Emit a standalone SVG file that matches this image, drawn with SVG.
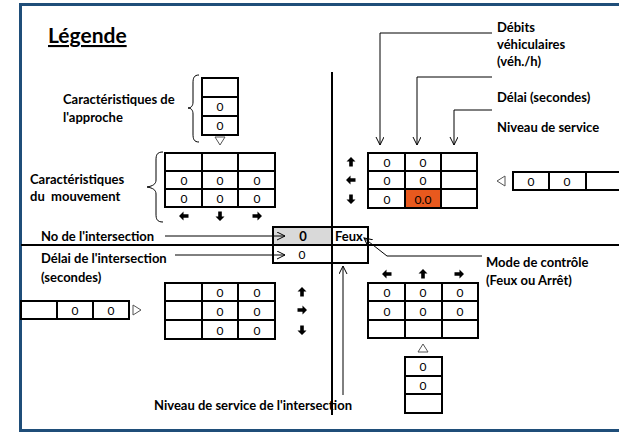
<svg xmlns="http://www.w3.org/2000/svg" xmlns:xlink="http://www.w3.org/1999/xlink" width="619" height="432" viewBox="0 0 619 432">
<style>
.lbl{font-family:Lato,"Liberation Sans",sans-serif;font-weight:bold;font-size:13px;fill:#000}
.num{font-family:Lato,"Liberation Sans",sans-serif;font-size:12px;fill:#000;text-anchor:middle}
.grid{fill:none;stroke:#000;stroke-width:2}
.lead{fill:none;stroke:#000;stroke-width:1}
.tri{fill:#fff;stroke:#555;stroke-width:1}
.arr{fill:#000}
</style>
<defs>
<marker id="open" markerUnits="userSpaceOnUse" markerWidth="10" markerHeight="10" refX="8" refY="4" orient="auto">
<path d="M0,0 L8,4 L0,8" fill="none" stroke="#000" stroke-width="1"/>
</marker>
<path id="aUp" d="M0,-5 L4.5,-0.5 L1.8,-0.5 L1.8,4.5 L-1.8,4.5 L-1.8,-0.5 L-4.5,-0.5 Z"/>
</defs>
<rect width="619" height="432" fill="#fff"/>
<rect id="frame" x="20.5" y="4.5" width="610" height="426" fill="none" stroke="#1f4e79" stroke-width="3"/>

<g id="axes">
<line x1="332" y1="72" x2="332" y2="415" stroke="#000" stroke-width="2"/>
<line x1="21" y1="245" x2="619" y2="245" stroke="#000" stroke-width="2"/>
</g>

<g id="legend-title"><text x="48" y="43" style="font-family:Lato,'Liberation Sans',sans-serif;font-weight:bold;font-size:21px;text-decoration:underline" fill="#000">Légende</text></g>

<g id="label-approche">
<text class="lbl" x="63" y="104">Caractéristiques de</text>
<text class="lbl" x="63" y="122">l'approche</text>
<path class="lead" d="M199,75 C194,75 193,78 193,83 L193,102 C193,106 191,108 188,108 C191,108 193,110 193,114 L193,134 C193,139 194,142 199,142"/>
</g>

<g id="label-mouvement">
<text class="lbl" x="30" y="184">Caractéristiques</text>
<text class="lbl" x="30" y="201" xml:space="preserve">du  mouvement</text>
<path class="lead" d="M163,152 C157,152 156,155 156,160 L156,180 C156,184 153,186 147,187 C153,188 156,190 156,194 L156,214 C156,219 157,222 163,222"/>
</g>

<g id="legend-approach-table">
<rect class="grid" x="202" y="78" width="36" height="57"/>
<line class="grid" x1="202" y1="97" x2="238" y2="97"/>
<line class="grid" x1="202" y1="116" x2="238" y2="116"/>
<text class="num" x="220" y="111">0</text>
<text class="num" x="220" y="130">0</text>
<polygon class="tri" points="215,137 225,137 220,145"/>
</g>

<g id="legend-movement-table">
<rect class="grid" x="165" y="153" width="110" height="54"/>
<line class="grid" x1="202" y1="153" x2="202" y2="207"/>
<line class="grid" x1="238" y1="153" x2="238" y2="207"/>
<line class="grid" x1="165" y1="171" x2="275" y2="171"/>
<line class="grid" x1="165" y1="189" x2="275" y2="189"/>
<text class="num" x="184" y="185">0</text><text class="num" x="220" y="185">0</text><text class="num" x="257" y="185">0</text>
<text class="num" x="184" y="203">0</text><text class="num" x="220" y="203">0</text><text class="num" x="257" y="203">0</text>
<use href="#aUp" class="arr" transform="translate(184,216) rotate(-90)"/>
<use href="#aUp" class="arr" transform="translate(220,216) rotate(180)"/>
<use href="#aUp" class="arr" transform="translate(257,216) rotate(90)"/>
</g>

<g id="ne-movement-table">
<rect x="405" y="189" width="36" height="19" fill="#e8591e"/>
<rect class="grid" x="368" y="153" width="109" height="55"/>
<line class="grid" x1="405" y1="153" x2="405" y2="208"/>
<line class="grid" x1="441" y1="153" x2="441" y2="208"/>
<line class="grid" x1="368" y1="171" x2="477" y2="171"/>
<line class="grid" x1="368" y1="189" x2="477" y2="189"/>
<text class="num" x="387" y="167">0</text><text class="num" x="423" y="167">0</text>
<text class="num" x="387" y="185">0</text><text class="num" x="423" y="185">0</text>
<text class="num" x="387" y="204">0</text><text class="num" x="423" y="204">0.0</text>
<use href="#aUp" class="arr" transform="translate(351,162)"/>
<use href="#aUp" class="arr" transform="translate(351,180) rotate(-90)"/>
<use href="#aUp" class="arr" transform="translate(351,199) rotate(180)"/>
</g>

<g id="e-approach-table">
<polygon class="tri" points="505,176 505,186 497,181"/>
<rect class="grid" x="513" y="172" width="115" height="18"/>
<line class="grid" x1="549" y1="172" x2="549" y2="190"/>
<line class="grid" x1="586" y1="172" x2="586" y2="190"/>
<text class="num" x="531" y="186">0</text><text class="num" x="567" y="186">0</text>
</g>

<g id="center-table">
<rect x="273" y="227" width="59" height="18" fill="#d9d9d9"/>
<rect class="grid" x="273" y="227" width="95" height="36"/>
<line class="grid" x1="332" y1="227" x2="332" y2="263"/>
<line class="grid" x1="273" y1="245" x2="368" y2="245"/>
<text class="num" x="303" y="241" font-weight="bold" style="font-size:13px">0</text>
<text class="lbl" x="335" y="241">Feux</text>
<text class="num" x="302" y="259">0</text>
</g>

<g id="se-movement-table">
<use href="#aUp" class="arr" transform="translate(387,274) rotate(-90)"/>
<use href="#aUp" class="arr" transform="translate(423,274)"/>
<use href="#aUp" class="arr" transform="translate(459,274) rotate(90)"/>
<rect class="grid" x="368" y="283" width="110" height="55"/>
<line class="grid" x1="405" y1="283" x2="405" y2="338"/>
<line class="grid" x1="442" y1="283" x2="442" y2="338"/>
<line class="grid" x1="368" y1="301" x2="478" y2="301"/>
<line class="grid" x1="368" y1="320" x2="478" y2="320"/>
<text class="num" x="387" y="297">0</text><text class="num" x="423" y="297">0</text><text class="num" x="460" y="297">0</text>
<text class="num" x="387" y="316">0</text><text class="num" x="423" y="316">0</text><text class="num" x="460" y="316">0</text>
</g>

<g id="s-approach-table">
<polygon class="tri" points="418,352 428,352 423,344"/>
<rect class="grid" x="405" y="357" width="37" height="56"/>
<line class="grid" x1="405" y1="376" x2="442" y2="376"/>
<line class="grid" x1="405" y1="394" x2="442" y2="394"/>
<text class="num" x="423" y="371">0</text>
<text class="num" x="423" y="390">0</text>
</g>

<g id="sw-movement-table">
<rect class="grid" x="165" y="283" width="110" height="56"/>
<line class="grid" x1="202" y1="283" x2="202" y2="339"/>
<line class="grid" x1="238" y1="283" x2="238" y2="339"/>
<line class="grid" x1="165" y1="301" x2="275" y2="301"/>
<line class="grid" x1="165" y1="320" x2="275" y2="320"/>
<text class="num" x="220" y="297">0</text><text class="num" x="257" y="297">0</text>
<text class="num" x="220" y="316">0</text><text class="num" x="257" y="316">0</text>
<text class="num" x="220" y="335">0</text><text class="num" x="257" y="335">0</text>
<use href="#aUp" class="arr" transform="translate(302,292)"/>
<use href="#aUp" class="arr" transform="translate(302,310) rotate(90)"/>
<use href="#aUp" class="arr" transform="translate(302,330) rotate(180)"/>
</g>

<g id="w-approach-table">
<rect class="grid" x="21" y="301" width="108" height="18"/>
<line class="grid" x1="57" y1="301" x2="57" y2="319"/>
<line class="grid" x1="93" y1="301" x2="93" y2="319"/>
<text class="num" x="75" y="315">0</text><text class="num" x="111" y="315">0</text>
<polygon class="tri" points="133,305 133,315 141,310"/>
</g>

<g id="label-debits">
<text class="lbl" x="497" y="32">Débits</text>
<text class="lbl" x="497" y="49">véhiculaires</text>
<text class="lbl" x="497" y="66">(véh./h)</text>
</g>
<g id="label-delai"><text class="lbl" x="497" y="102">Délai (secondes)</text></g>
<g id="label-niveau"><text class="lbl" x="497" y="132">Niveau de service</text></g>
<g id="label-no"><text class="lbl" x="41" y="241">No de l'intersection</text></g>
<g id="label-delai-int">
<text class="lbl" x="41" y="263">Délai de l'intersection</text>
<text class="lbl" x="41" y="282">(secondes)</text>
</g>
<g id="label-mode">
<text class="lbl" x="486" y="267">Mode de contrôle</text>
<text class="lbl" x="486" y="285">(Feux ou Arrêt)</text>
</g>
<g id="label-nsi"><text class="lbl" x="154" y="410">Niveau de service de l'intersection</text></g>

<g id="connectors">
<polyline class="lead" points="492,33 380,33 380,145" marker-end="url(#open)"/>
<polyline class="lead" points="492,77 417,77 417,145" marker-end="url(#open)"/>
<polyline class="lead" points="492,110 454,110 454,145" marker-end="url(#open)"/>
<line class="lead" x1="165" y1="236" x2="285" y2="236" marker-end="url(#open)"/>
<line class="lead" x1="175" y1="255" x2="285" y2="255" marker-end="url(#open)"/>
<polyline class="lead" points="482,256 387,256 364,238" marker-end="url(#open)"/>
<line class="lead" x1="343" y1="395" x2="343" y2="266" marker-end="url(#open)"/>
</g>
</svg>
